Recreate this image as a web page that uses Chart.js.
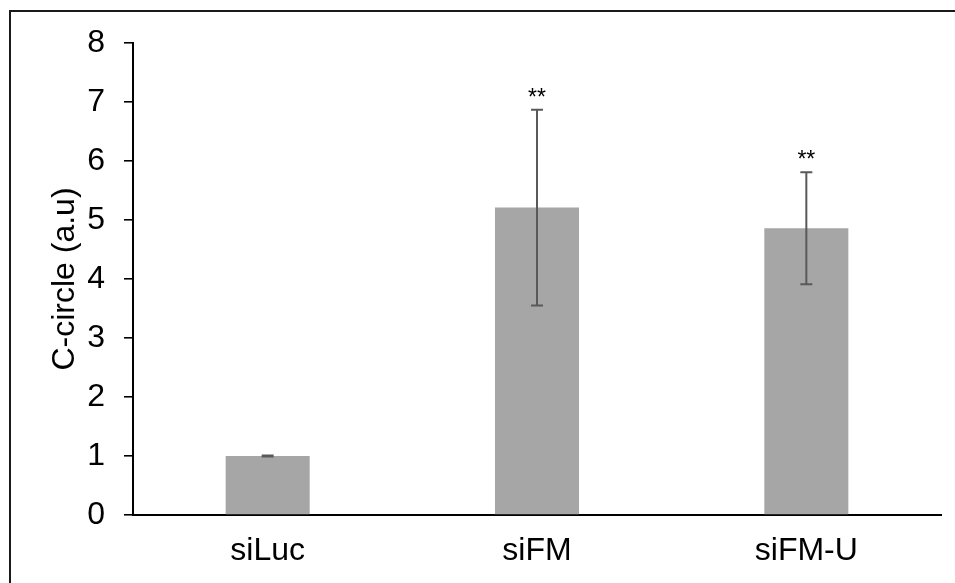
<!DOCTYPE html>
<html>
<head>
<meta charset="utf-8">
<script src="https://cdn.jsdelivr.net/npm/chart.js@4.4.1/dist/chart.umd.min.js"></script>
<style>
  html, body { margin: 0; padding: 0; background: #ffffff; overflow: hidden; }
  canvas { display: block; }
</style>
</head>
<body>
<canvas id="c" width="955" height="583"></canvas>
<script>
const categories = ['siLuc', 'siFM', 'siFM-U'];
const values = [1.00, 5.21, 4.86];
const errors = [0.01, 1.66, 0.95];
const significance = ['', '**', '**'];
const yMin = 0, yMax = 8, yStep = 1;
const yTitle = 'C-circle (a.u)';

const FONT = "'Liberation Sans', Arial, sans-serif";
Chart.defaults.font.family = FONT;
Chart.defaults.color = '#000000';

const framePlugin = {
  id: 'frame',
  beforeDraw(chart) {
    const ctx = chart.ctx;
    ctx.save();
    ctx.fillStyle = '#ffffff';
    ctx.fillRect(0, 0, chart.width, chart.height);
    ctx.strokeStyle = '#1a1a1a';
    ctx.lineWidth = 2;
    ctx.strokeRect(10, 11, chart.width + 50, chart.height + 50);
    ctx.restore();
  }
};

const errorBarPlugin = {
  id: 'errorBars',
  afterDatasetsDraw(chart) {
    const ctx = chart.ctx;
    const meta = chart.getDatasetMeta(0);
    const y = chart.scales.y;
    ctx.save();
    meta.data.forEach((bar, i) => {
      const x = bar.x;
      const yTop = y.getPixelForValue(values[i] + errors[i]);
      const yBot = y.getPixelForValue(values[i] - errors[i]);
      const cap = 6;
      ctx.strokeStyle = '#595959';
      ctx.lineWidth = 2;
      ctx.beginPath();
      ctx.moveTo(x, yTop);
      ctx.lineTo(x, yBot);
      ctx.moveTo(x - cap, yTop);
      ctx.lineTo(x + cap, yTop);
      ctx.moveTo(x - cap, yBot);
      ctx.lineTo(x + cap, yBot);
      ctx.stroke();
      if (significance[i]) {
        ctx.fillStyle = '#000000';
        ctx.font = '23px ' + FONT;
        ctx.textAlign = 'center';
        ctx.textBaseline = 'alphabetic';
        ctx.fillText(significance[i], x, yTop - 5);
      }
    });
    ctx.restore();
  }
};

new Chart(document.getElementById('c'), {
  type: 'bar',
  data: {
    labels: categories,
    datasets: [{
      data: values,
      backgroundColor: '#a6a6a6',
      borderWidth: 0,
      categoryPercentage: 1.0,
      barPercentage: 0.312
    }]
  },
  options: {
    responsive: false,
    animation: false,
    devicePixelRatio: 1,
    layout: { padding: { left: 0, top: 43, right: 14, bottom: 0 } },
    plugins: { legend: { display: false }, tooltip: { enabled: false } },
    scales: {
      x: {
        grid: { display: false, drawTicks: false },
        border: { display: true, color: '#000000', width: 2 },
        ticks: { font: { size: 32 }, color: '#000000', padding: 17, maxRotation: 0 },
        afterFit(scale) { scale.height = 68; }
      },
      y: {
        min: yMin, max: yMax,
        ticks: { stepSize: yStep, font: { size: 32 }, color: '#000000', padding: 19 },
        grid: { display: true, drawOnChartArea: false, drawTicks: true, tickLength: 9, color: '#000000', lineWidth: 1.6 },
        border: { display: true, color: '#000000', width: 2 },
        title: { display: true, text: yTitle, font: { size: 32 }, color: '#000000', padding: { top: 45.8, bottom: 0 } },
        afterFit(scale) { scale.width = 133; }
      }
    }
  },
  plugins: [framePlugin, errorBarPlugin]
});
</script>
</body>
</html>
